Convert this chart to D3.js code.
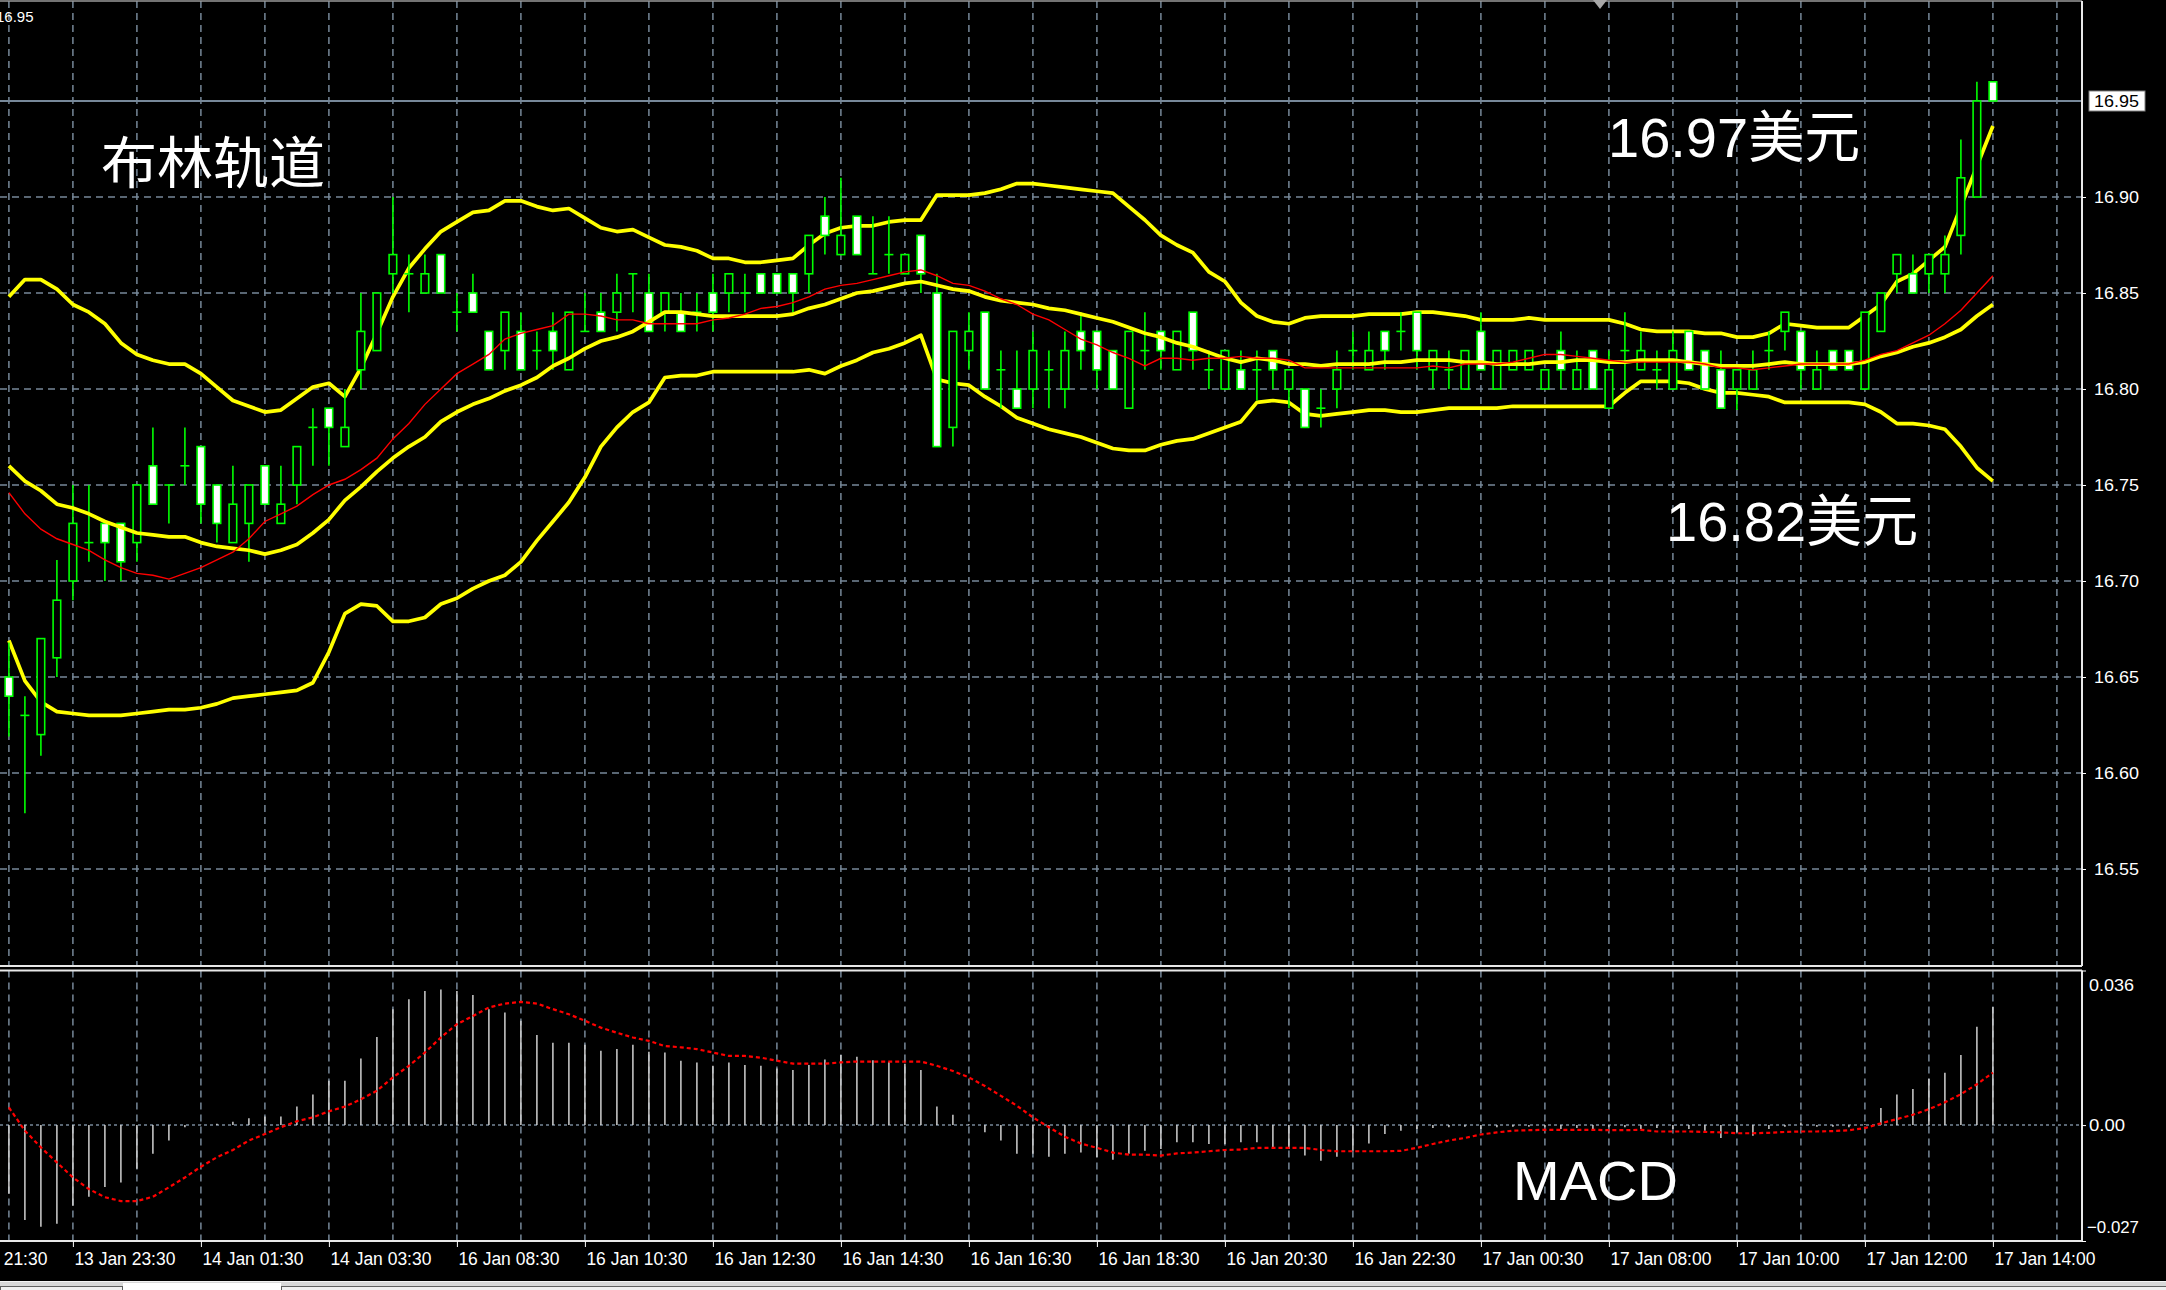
<!DOCTYPE html>
<html><head><meta charset="utf-8">
<script src="https://cdn.jsdelivr.net/npm/d3@7"></script>
<style>html,body{margin:0;padding:0;background:#000;overflow:hidden}</style>
</head><body>
<svg id="c" width="2166" height="1290"></svg>
<script>
// ---- data ----
const openP = [16.65,16.63,16.62,16.66,16.70,16.72,16.73,16.73,16.72,16.76,16.75,16.76,16.77,16.75,16.72,16.73,16.76,16.73,16.75,16.78,16.79,16.77,16.81,16.82,16.86,16.86,16.85,16.87,16.84,16.85,16.83,16.82,16.83,16.82,16.83,16.81,16.83,16.84,16.84,16.86,16.85,16.84,16.84,16.84,16.85,16.85,16.85,16.86,16.86,16.86,16.86,16.89,16.87,16.89,16.86,16.87,16.86,16.88,16.85,16.78,16.82,16.84,16.81,16.80,16.80,16.81,16.80,16.83,16.83,16.82,16.79,16.82,16.83,16.81,16.84,16.81,16.80,16.81,16.81,16.82,16.80,16.80,16.79,16.80,16.82,16.81,16.83,16.83,16.84,16.81,16.81,16.80,16.83,16.80,16.81,16.81,16.80,16.82,16.80,16.82,16.79,16.82,16.81,16.81,16.80,16.83,16.82,16.81,16.80,16.80,16.82,16.83,16.83,16.80,16.82,16.82,16.80,16.83,16.86,16.86,16.86,16.86,16.88,16.90,16.96];
const highP = [16.668,16.64,16.67,16.711,16.75,16.75,16.73,16.73,16.75,16.78,16.75,16.78,16.77,16.75,16.76,16.75,16.76,16.76,16.77,16.79,16.79,16.80,16.85,16.85,16.90,16.87,16.87,16.87,16.85,16.86,16.83,16.84,16.84,16.83,16.84,16.84,16.85,16.85,16.86,16.86,16.86,16.85,16.85,16.85,16.86,16.86,16.86,16.86,16.86,16.86,16.88,16.90,16.91,16.89,16.89,16.89,16.87,16.88,16.86,16.83,16.84,16.84,16.82,16.82,16.83,16.82,16.83,16.84,16.83,16.82,16.83,16.84,16.83,16.83,16.84,16.82,16.82,16.82,16.82,16.82,16.81,16.80,16.80,16.82,16.83,16.83,16.83,16.84,16.84,16.82,16.82,16.82,16.84,16.82,16.82,16.82,16.81,16.83,16.82,16.82,16.82,16.84,16.83,16.82,16.83,16.83,16.82,16.82,16.81,16.82,16.83,16.84,16.83,16.82,16.82,16.82,16.84,16.85,16.87,16.87,16.87,16.88,16.93,16.96,16.96];
const lowP = [16.619,16.579,16.609,16.65,16.69,16.71,16.70,16.70,16.71,16.74,16.73,16.75,16.73,16.72,16.72,16.71,16.74,16.73,16.74,16.76,16.76,16.77,16.80,16.82,16.85,16.84,16.85,16.85,16.83,16.84,16.81,16.81,16.81,16.81,16.81,16.81,16.83,16.83,16.83,16.84,16.83,16.83,16.83,16.83,16.83,16.84,16.84,16.85,16.85,16.84,16.85,16.87,16.87,16.87,16.86,16.86,16.86,16.85,16.77,16.77,16.81,16.80,16.79,16.79,16.79,16.79,16.79,16.81,16.80,16.80,16.79,16.81,16.81,16.81,16.81,16.80,16.80,16.80,16.794,16.80,16.79,16.78,16.78,16.79,16.81,16.81,16.81,16.82,16.81,16.80,16.80,16.80,16.81,16.80,16.81,16.81,16.80,16.80,16.80,16.80,16.79,16.80,16.81,16.80,16.80,16.81,16.80,16.79,16.789,16.80,16.81,16.82,16.80,16.80,16.81,16.81,16.80,16.83,16.85,16.85,16.85,16.85,16.87,16.90,16.95];
const closeP = [16.64,16.63,16.67,16.69,16.73,16.72,16.72,16.71,16.75,16.74,16.75,16.76,16.74,16.73,16.74,16.75,16.74,16.74,16.77,16.78,16.78,16.78,16.83,16.85,16.87,16.86,16.86,16.85,16.84,16.84,16.81,16.84,16.81,16.82,16.82,16.84,16.83,16.83,16.85,16.86,16.83,16.85,16.83,16.84,16.84,16.86,16.85,16.85,16.85,16.85,16.88,16.88,16.88,16.87,16.86,16.87,16.87,16.86,16.77,16.83,16.83,16.80,16.81,16.79,16.82,16.81,16.82,16.82,16.81,16.80,16.83,16.82,16.82,16.83,16.82,16.81,16.82,16.80,16.81,16.81,16.81,16.78,16.79,16.81,16.82,16.82,16.82,16.83,16.82,16.82,16.81,16.82,16.81,16.82,16.82,16.82,16.81,16.81,16.81,16.80,16.81,16.82,16.82,16.81,16.82,16.81,16.80,16.79,16.81,16.81,16.82,16.84,16.81,16.81,16.81,16.81,16.84,16.85,16.87,16.85,16.87,16.87,16.91,16.95,16.95];

const bbUpper = [16.848,16.857,16.857,16.852,16.844,16.840,16.834,16.824,16.818,16.815,16.813,16.813,16.808,16.801,16.794,16.791,16.788,16.789,16.795,16.801,16.803,16.796,16.811,16.829,16.848,16.863,
16.873,16.882,16.887,16.892,16.893,16.898,16.898,16.895,16.893,16.894,16.889,16.884,16.882,16.883,16.879,16.875,16.874,16.872,16.868,16.868,16.866,16.866,16.867,16.868,16.875,
16.881,16.884,16.885,16.885,16.887,16.888,16.888,16.901,16.901,16.901,16.902,16.904,16.907,16.907,16.906,16.905,16.904,16.903,16.902,16.895,16.888,16.880,16.875,16.871,16.861,
16.856,16.845,16.838,16.835,16.834,16.837,16.838,16.838,16.838,16.839,16.839,16.839,16.840,16.840,16.839,16.838,16.836,16.836,16.836,16.837,16.836,16.836,16.836,16.836,16.836,
16.834,16.831,16.830,16.830,16.830,16.829,16.829,16.827,16.827,16.829,16.834,16.833,16.832,16.832,16.832,16.838,16.844,16.856,16.860,16.867,16.874,16.895,16.916,16.937];
const bbMiddle = [16.760,16.752,16.747,16.740,16.738,16.735,16.731,16.728,16.725,16.724,16.723,16.723,16.720,16.718,16.717,16.716,16.714,16.716,16.719,16.725,16.732,16.742,16.749,16.757,16.764,16.770,
16.775,16.783,16.788,16.792,16.795,16.799,16.802,16.806,16.812,16.816,16.821,16.825,16.827,16.830,16.835,16.840,16.840,16.839,16.838,16.838,16.838,16.838,16.838,16.839,16.842,
16.844,16.847,16.850,16.851,16.853,16.855,16.856,16.854,16.852,16.851,16.848,16.846,16.845,16.844,16.842,16.841,16.839,16.837,16.835,16.832,16.829,16.827,16.824,16.822,16.819,
16.816,16.814,16.816,16.815,16.813,16.813,16.812,16.813,16.813,16.813,16.814,16.814,16.815,16.815,16.815,16.814,16.814,16.813,16.813,16.813,16.814,16.814,16.815,16.815,16.814,
16.814,16.815,16.815,16.815,16.814,16.813,16.812,16.812,16.812,16.813,16.814,16.813,16.813,16.813,16.813,16.814,16.817,16.819,16.822,16.824,16.827,16.831,16.838,16.844];
const bbLower = [16.669,16.648,16.637,16.632,16.631,16.630,16.630,16.630,16.631,16.632,16.633,16.633,16.634,16.636,16.639,16.640,16.641,16.642,16.643,16.647,16.663,16.683,16.688,16.687,16.679,16.679,
16.681,16.688,16.691,16.696,16.700,16.703,16.710,16.721,16.731,16.741,16.754,16.770,16.780,16.788,16.793,16.806,16.807,16.807,16.809,16.809,16.809,16.809,16.809,16.809,16.810,
16.808,16.812,16.815,16.819,16.821,16.824,16.828,16.805,16.803,16.802,16.796,16.791,16.785,16.782,16.779,16.777,16.775,16.772,16.769,16.768,16.768,16.771,16.773,16.774,16.777,
16.780,16.783,16.793,16.794,16.793,16.787,16.786,16.787,16.788,16.789,16.789,16.788,16.788,16.789,16.790,16.790,16.790,16.790,16.791,16.791,16.791,16.791,16.791,16.791,16.791,
16.798,16.804,16.804,16.804,16.803,16.800,16.798,16.798,16.797,16.796,16.793,16.793,16.793,16.793,16.793,16.792,16.788,16.782,16.782,16.781,16.779,16.770,16.759,16.752];
const maRed = [16.746,16.735,16.727,16.722,16.719,16.716,16.711,16.707,16.704,16.703,16.701,16.704,16.707,16.711,16.715,16.722,16.731,16.735,16.739,16.745,16.750,16.753,16.758,16.764,16.774,16.782,
16.792,16.800,16.808,16.813,16.818,16.826,16.829,16.831,16.833,16.839,16.839,16.838,16.836,16.836,16.834,16.834,16.834,16.834,16.836,16.837,16.839,16.842,16.843,16.845,16.848,
16.852,16.854,16.855,16.857,16.859,16.861,16.862,16.859,16.855,16.854,16.851,16.847,16.844,16.839,16.836,16.831,16.826,16.823,16.819,16.816,16.812,16.816,16.816,16.815,16.816,
16.816,16.817,16.816,16.816,16.815,16.811,16.811,16.811,16.811,16.811,16.811,16.811,16.811,16.812,16.811,16.813,16.813,16.813,16.814,16.816,16.818,16.818,16.817,16.816,16.815,
16.814,16.814,16.814,16.814,16.814,16.813,16.811,16.811,16.810,16.811,16.812,16.813,16.813,16.813,16.813,16.815,16.818,16.820,16.824,16.828,16.834,16.841,16.850,16.859];

const macdHist = [-0.0160,-0.0221,-0.0237,-0.0230,-0.0188,-0.0167,-0.0144,-0.0134,-0.0102,-0.0067,-0.0036,-0.0005,0.0001,0.0003,0.0008,
0.0016,0.0020,0.0020,0.0043,0.0071,0.0103,0.0103,0.0155,0.0205,0.0270,0.0293,0.0312,0.0316,0.0312,0.0303,
0.0270,0.0262,0.0243,0.0210,0.0192,0.0192,0.0187,0.0173,0.0177,0.0187,0.0171,0.0169,0.0150,0.0146,0.0138,
0.0146,0.0140,0.0138,0.0132,0.0128,0.0140,0.0153,0.0163,0.0159,0.0151,0.0147,0.0143,0.0128,0.0043,0.0024,
0.0002,-0.0017,-0.0036,-0.0067,-0.0067,-0.0074,-0.0067,-0.0064,-0.0075,-0.0081,-0.0067,-0.0060,-0.0056,-0.0040,-0.0040,
-0.0044,-0.0044,-0.0040,-0.0040,-0.0052,-0.0056,-0.0071,-0.0083,-0.0074,-0.0060,-0.0043,-0.0021,-0.0013,-0.0009,-0.0007,
-0.0005,-0.0004,-0.0009,-0.0005,-0.0004,-0.0004,-0.0005,-0.0009,-0.0007,-0.0013,-0.0005,-0.0005,-0.0009,-0.0007,-0.0009,
-0.0009,-0.0013,-0.0030,-0.0017,-0.0025,-0.0009,-0.0004,0.0006,-0.0004,-0.0004,-0.0005,0.0002,0.0040,0.0071,0.0084,0.0108,0.0122,0.0163,0.0229,0.0275];
const macdSignal = [0.0041,-0.0013,-0.0052,-0.0087,-0.0122,-0.0149,-0.0168,-0.0177,-0.0177,-0.0167,-0.0145,-0.0122,-0.0097,-0.0075,-0.0058,
-0.0036,-0.0021,-0.0005,0.0009,0.0018,0.0032,0.0043,0.0060,0.0080,0.0111,0.0138,0.0169,0.0204,0.0235,0.0254,
0.0274,0.0283,0.0287,0.0283,0.0270,0.0258,0.0243,0.0227,0.0215,0.0204,0.0196,0.0184,0.0181,0.0177,0.0169,
0.0161,0.0161,0.0157,0.0150,0.0143,0.0143,0.0143,0.0146,0.0148,0.0148,0.0148,0.0148,0.0148,0.0138,0.0126,
0.0111,0.0091,0.0068,0.0045,0.0018,-0.0005,-0.0027,-0.0043,-0.0053,-0.0064,-0.0069,-0.0069,-0.0071,-0.0066,-0.0064,
-0.0061,-0.0058,-0.0057,-0.0053,-0.0053,-0.0053,-0.0053,-0.0058,-0.0061,-0.0061,-0.0061,-0.0061,-0.0060,-0.0053,-0.0044,
-0.0036,-0.0030,-0.0022,-0.0017,-0.0013,-0.0012,-0.0011,-0.0011,-0.0011,-0.0011,-0.0012,-0.0012,-0.0011,-0.0015,-0.0015,
-0.0015,-0.0016,-0.0017,-0.0019,-0.0019,-0.0018,-0.0016,-0.0015,-0.0015,-0.0014,-0.0012,-0.0007,0.0004,0.0014,0.0024,0.0037,0.0053,0.0072,0.0095,0.0122];

const dateTickBars = [-4,4,12,20,28,36,44,52,60,68,76,84,92,100,108,116,124];
const dateLabels = ["13 Jan 21:30","13 Jan 23:30","14 Jan 01:30","14 Jan 03:30","16 Jan 08:30","16 Jan 10:30","16 Jan 12:30","16 Jan 14:30","16 Jan 16:30","16 Jan 18:30","16 Jan 20:30","16 Jan 22:30","17 Jan 00:30","17 Jan 08:00","17 Jan 10:00","17 Jan 12:00","17 Jan 14:00"];
const priceTicks = [16.55,16.60,16.65,16.70,16.75,16.80,16.85,16.90];
const bidPrice = 16.95;
const macdTicks = [0.036,0.00,-0.027];
const notes = [{t:"布林轨道"},{t:"16.97美元"},{t:"16.82美元"},{t:"MACD"}];

// ---- layout ----
const W = 2166, H = 1290;
const plotR = 2082, mainTop = 1, mainBot = 966, macdTop = 970.5, macdBot = 1241;
const svg = d3.select("#c");
svg.append("rect").attr("width",W).attr("height",H).attr("fill","#000");

const n = closeP.length;
const x = d3.scaleLinear().domain([0,124]).range([8.9,1992.9]);
const y = d3.scaleLinear().domain([16.5,17.0]).range([965,5]);
const ym = d3.scaleLinear().domain([-0.027,0.036]).range([macdBot,macdTop]);

const defs = svg.append("defs");
defs.append("clipPath").attr("id","cm").append("rect").attr("x",0).attr("y",mainTop).attr("width",plotR).attr("height",mainBot-mainTop);
defs.append("clipPath").attr("id","cd").append("rect").attr("x",0).attr("y",macdTop).attr("width",plotR).attr("height",macdBot-macdTop);

const gridC = "#778899";
const gridBars = d3.range(0,129,4);

// main panel grid
const gm = svg.append("g").attr("clip-path","url(#cm)");
gm.selectAll("line.vg").data(gridBars).join("line")
  .attr("x1",d=>x(d)).attr("x2",d=>x(d)).attr("y1",mainTop).attr("y2",mainBot)
  .attr("stroke",gridC).attr("stroke-width",1.5).attr("stroke-dasharray","7,5");
gm.selectAll("line.hg").data(priceTicks).join("line")
  .attr("x1",0).attr("x2",plotR).attr("y1",d=>y(d)).attr("y2",d=>y(d))
  .attr("stroke",gridC).attr("stroke-width",1.5).attr("stroke-dasharray","7,5");
// bid line
gm.append("line").attr("x1",0).attr("x2",plotR).attr("y1",y(bidPrice)).attr("y2",y(bidPrice))
  .attr("stroke",gridC).attr("stroke-width",2);

const idx = d3.range(n);
const lineGen = arr => d3.line().x(i=>x(i)).y(i=>y(arr[i]))(idx);

// bands and MA
gm.append("path").attr("d",lineGen(bbUpper)).attr("fill","none").attr("stroke","#ffff00").attr("stroke-width",3.7).attr("stroke-linejoin","round");
gm.append("path").attr("d",lineGen(bbLower)).attr("fill","none").attr("stroke","#ffff00").attr("stroke-width",3.7).attr("stroke-linejoin","round");

// candles
const cg = gm.append("g");
idx.forEach(i=>{
  const o=openP[i], h=highP[i], l=lowP[i], c=closeP[i], xc=x(i);
  cg.append("line").attr("x1",xc).attr("x2",xc).attr("y1",y(h)).attr("y2",y(l)).attr("stroke","#00ff00").attr("stroke-width",1.6);
  if (Math.abs(o-c) < 1e-9) {
    cg.append("line").attr("x1",xc-4.5).attr("x2",xc+4.5).attr("y1",y(o)).attr("y2",y(o)).attr("stroke","#00ff00").attr("stroke-width",1.6);
  } else {
    const top = y(Math.max(o,c)), bot = y(Math.min(o,c));
    cg.append("rect").attr("x",xc-3.8).attr("y",top).attr("width",7.6).attr("height",bot-top)
      .attr("fill", c<o ? "#ffffff" : "#000000").attr("stroke","#00ff00").attr("stroke-width",1.6);
  }
});

gm.append("path").attr("d",lineGen(bbMiddle)).attr("fill","none").attr("stroke","#ffff00").attr("stroke-width",3.7).attr("stroke-linejoin","round");
gm.append("path").attr("d",lineGen(maRed)).attr("fill","none").attr("stroke","#ff0000").attr("stroke-width",1.4);

// MACD panel
const gd = svg.append("g").attr("clip-path","url(#cd)");
gd.selectAll("line.vg").data(gridBars).join("line")
  .attr("x1",d=>x(d)).attr("x2",d=>x(d)).attr("y1",macdTop).attr("y2",macdBot)
  .attr("stroke",gridC).attr("stroke-width",1.5).attr("stroke-dasharray","7,5");
gd.append("line").attr("x1",0).attr("x2",plotR).attr("y1",ym(0)).attr("y2",ym(0))
  .attr("stroke",gridC).attr("stroke-width",1.5).attr("stroke-dasharray","3,3");
gd.selectAll("line.h").data(idx).join("line")
  .attr("x1",i=>x(i)).attr("x2",i=>x(i)).attr("y1",ym(0)).attr("y2",i=>ym(macdHist[i]))
  .attr("stroke","#d0d0d0").attr("stroke-width",1.5);
gd.append("path").attr("d",d3.line().x(i=>x(i)).y(i=>ym(macdSignal[i]))(idx))
  .attr("fill","none").attr("stroke","#ff0000").attr("stroke-width",2.2).attr("stroke-dasharray","4,3");

// borders
const bc = "#e8e8e8";
svg.append("line").attr("x1",0).attr("x2",plotR).attr("y1",1).attr("y2",1).attr("stroke","#9a9a9a").attr("stroke-width",1.5);
svg.append("line").attr("x1",0).attr("x2",plotR).attr("y1",mainBot).attr("y2",mainBot).attr("stroke",bc).attr("stroke-width",2);
svg.append("line").attr("x1",0).attr("x2",plotR).attr("y1",macdTop).attr("y2",macdTop).attr("stroke",bc).attr("stroke-width",2);
svg.append("line").attr("x1",0).attr("x2",plotR).attr("y1",macdBot).attr("y2",macdBot).attr("stroke",bc).attr("stroke-width",2);
svg.append("line").attr("x1",plotR).attr("x2",plotR).attr("y1",1).attr("y2",mainBot).attr("stroke",bc).attr("stroke-width",2);
svg.append("line").attr("x1",plotR).attr("x2",plotR).attr("y1",macdTop).attr("y2",macdBot).attr("stroke",bc).attr("stroke-width",2);

// price axis
const axFont = "'Liberation Sans', Arial, sans-serif";
const pa = svg.append("g").attr("transform",`translate(${plotR},0)`)
  .call(d3.axisRight(y).tickValues(priceTicks).tickSize(4).tickPadding(8).tickFormat(d3.format(".2f")));
pa.select(".domain").remove();
pa.selectAll(".tick line").attr("stroke","#ffffff");
pa.selectAll(".tick text").attr("fill","#ffffff").attr("font-family",axFont).attr("font-size",17)
  .attr("textLength",45).attr("lengthAdjust","spacingAndGlyphs");

// bid label box
svg.append("rect").attr("x",2089).attr("y",y(bidPrice)-10).attr("width",56).attr("height",20).attr("fill","#ffffff").attr("stroke","#808080");
svg.append("text").attr("x",2094).attr("y",y(bidPrice)).attr("dy","0.35em").attr("fill","#000").attr("font-family",axFont).attr("font-size",17)
  .attr("textLength",45).attr("lengthAdjust","spacingAndGlyphs").text(d3.format(".2f")(bidPrice));

// MACD axis
const ma = svg.append("g").attr("transform",`translate(${plotR},0)`)
  .call(d3.axisRight(ym).tickValues(macdTicks).tickSize(4).tickPadding(3).tickFormat(d=> d===0 ? "0.00" : d3.format(".3f")(d)));
ma.select(".domain").remove();
ma.selectAll(".tick line").attr("stroke","#ffffff");
ma.selectAll(".tick text").attr("fill","#ffffff").attr("font-family",axFont).attr("font-size",17)
  .attr("dy",d=> d>0.01 ? "1.2em" : (d< -0.01 ? "-0.5em" : "0.32em"))
  .attr("x",d=> d< -0.01 ? 5 : 7)
  .attr("textLength",d=> d===0 ? 36 : (d<0 ? 52 : 45)).attr("lengthAdjust","spacingAndGlyphs");

// date axis
const da = svg.append("g").attr("transform",`translate(0,${macdBot})`)
  .call(d3.axisBottom(x).tickValues(dateTickBars).tickSize(6).tickPadding(5).tickFormat((d,k)=>dateLabels[k]));
da.select(".domain").remove();
da.selectAll(".tick line").attr("stroke","#ffffff");
da.selectAll(".tick text").attr("fill","#ffffff").attr("font-family",axFont).attr("font-size",18)
  .attr("text-anchor","start").attr("x",1).attr("textLength",101).attr("lengthAdjust","spacingAndGlyphs");

// top-left partial label and shift marker
svg.append("text").attr("x",-4).attr("y",22).attr("fill","#fff").attr("font-family",axFont).attr("font-size",15).text("16.95");
svg.append("path").attr("d","M1593,0 L1607,0 L1600,9 Z").attr("fill","#a8a8a8");

// bottom tab strip
svg.append("rect").attr("x",0).attr("y",1281).attr("width",W).attr("height",9).attr("fill","#d8d8d8");
svg.append("line").attr("x1",0).attr("x2",W).attr("y1",1281.5).attr("y2",1281.5).attr("stroke","#f4f4f4");
svg.append("rect").attr("x",0.5).attr("y",1286.5).attr("width",122).attr("height",6).attr("fill","#f0f0f0").attr("stroke","#606060");
svg.append("rect").attr("x",123).attr("y",1283).attr("width",158).attr("height",7).attr("fill","#ffffff");
svg.append("rect").attr("x",281.5).attr("y",1286.5).attr("width",1890).attr("height",6).attr("fill","#f0f0f0").attr("stroke","#606060");

// annotations
const annFont = "'Liberation Sans', 'Noto Sans CJK SC', sans-serif";
svg.append("text").attr("x",101).attr("y",183).attr("fill","#fff").attr("font-family","'Noto Sans CJK SC', sans-serif").attr("font-size",56).text(notes[0].t);
svg.append("text").attr("x",1608).attr("y",157).attr("fill","#fff").attr("font-family",annFont).attr("font-size",56).text(notes[1].t);
svg.append("text").attr("x",1666).attr("y",541).attr("fill","#fff").attr("font-family",annFont).attr("font-size",56).text(notes[2].t);
svg.append("text").attr("x",1513).attr("y",1200).attr("fill","#fff").attr("font-family",annFont).attr("font-size",56).text(notes[3].t);
</script>
</body></html>
